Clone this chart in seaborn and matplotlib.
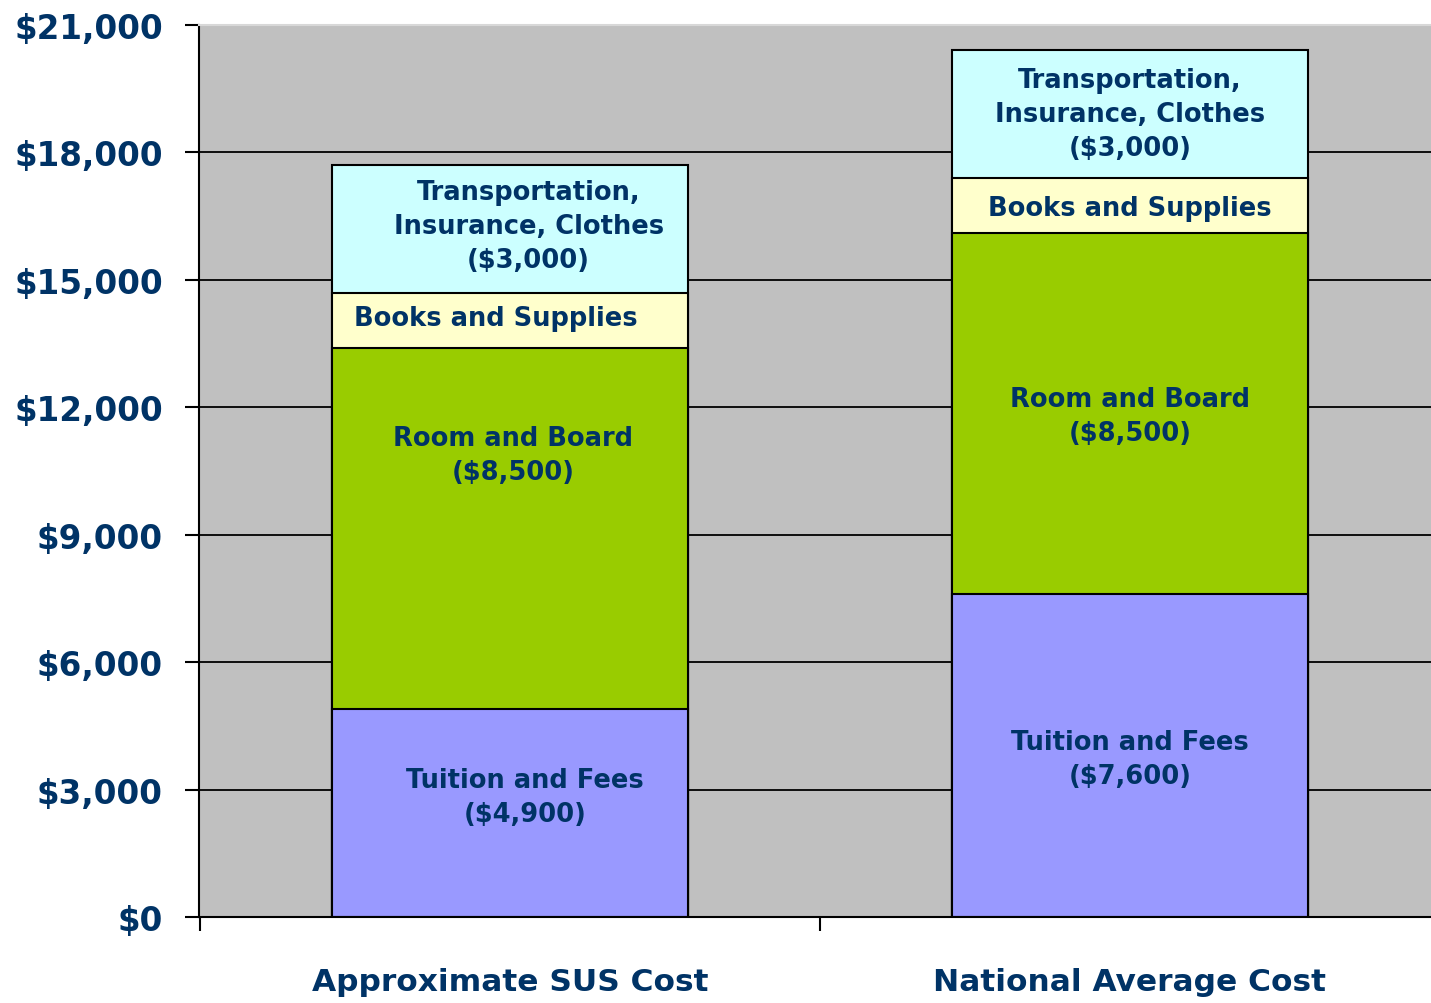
import matplotlib
matplotlib.use("Agg")
import matplotlib.pyplot as plt
import seaborn as sns
import pandas as pd
import numpy as np

# data
categories = ["Approximate SUS Cost", "National Average Cost"]
tuition = [4900, 7600]
room = [8500, 8500]
books = [1300, 1300]
transport = [3000, 3000]

seg_names = ["Tuition and Fees", "Room and Board", "Books and Supplies",
             "Transportation,\nInsurance, Clothes"]
seg_colors = ["#9999FF", "#99CC00", "#FFFFCC", "#CCFFFF"]
show_amount = [True, True, False, True]
yticks = list(range(0, 21001, 3000))

navy = "#003366"

sns.set_theme(style="white")
plt.rcParams["font.family"] = ["DejaVu Sans"]

df = pd.DataFrame({"category": categories, "tuition": tuition, "room": room,
                   "books": books, "transport": transport})
segs = ["tuition", "room", "books", "transport"]
cum = df[segs].cumsum(axis=1)

fig = plt.figure(figsize=(14.31, 10.04), dpi=100)
ax = fig.add_axes([199 / 1431, 86 / 1004, 1232 / 1431, 892 / 1004])
ax.set_facecolor("#C0C0C0")
ax.set_axisbelow(True)
ax.yaxis.grid(True, color="black", linewidth=1.3)

# stacked bars: draw cumulative totals from top layer down
for i in range(len(segs) - 1, -1, -1):
    sns.barplot(x=df["category"], y=cum[segs[i]], color=seg_colors[i],
                width=0.575, edgecolor="black", linewidth=1.5,
                saturation=1, ax=ax)

# segment labels
label_dx = [[0.024, 0.0], [0.005, 0.0], [-0.023, 0.0], [0.03, 0.0]]
label_dy = [[375, -80], [1725, -55], [50, -60], [70, 0]]
for i, s in enumerate(segs):
    for j in range(len(categories)):
        val = df[s].iloc[j]
        bottom = cum[s].iloc[j] - val
        txt = seg_names[i]
        if show_amount[i]:
            txt += "\n(${:,})".format(val)
        ax.text(j + label_dx[i][j], bottom + val / 2 + label_dy[i][j], txt,
                ha="center", va="center", color=navy, fontsize=18.5,
                fontweight="bold", linespacing=1.4)

ax.set_yticks(yticks)
ax.set_yticklabels(["${:,}".format(v) for v in yticks], color=navy,
                   fontsize=23.5, fontweight="bold")
ax.tick_params(axis="y", direction="out", length=10, width=1.5,
               color="black", pad=16, left=True)

ax.set_xticks([-0.5, 0.5, 1.5])
ax.set_xticklabels(["", "", ""])
ax.tick_params(axis="x", which="major", direction="out", length=10,
               width=1.5, color="black", bottom=True)
ax.set_xticks([0, 1], minor=True)
ax.set_xticklabels(categories, minor=True, color=navy, fontsize=22.5,
                   fontweight="bold")
ax.tick_params(axis="x", which="minor", length=0, pad=36)
ax.set_xlabel("")
ax.set_ylabel("")
ax.set_ylim(0, 21000)
ax.set_xlim(-0.5016, 1.4855)

for side in ["left", "bottom"]:
    ax.spines[side].set_color("black")
    ax.spines[side].set_linewidth(1.5)
    ax.spines[side].set_visible(True)
ax.spines["right"].set_visible(False)
ax.spines["top"].set_color("#D8D8D8")
ax.spines["top"].set_linewidth(1.5)

fig.savefig("out.png", dpi=100)
